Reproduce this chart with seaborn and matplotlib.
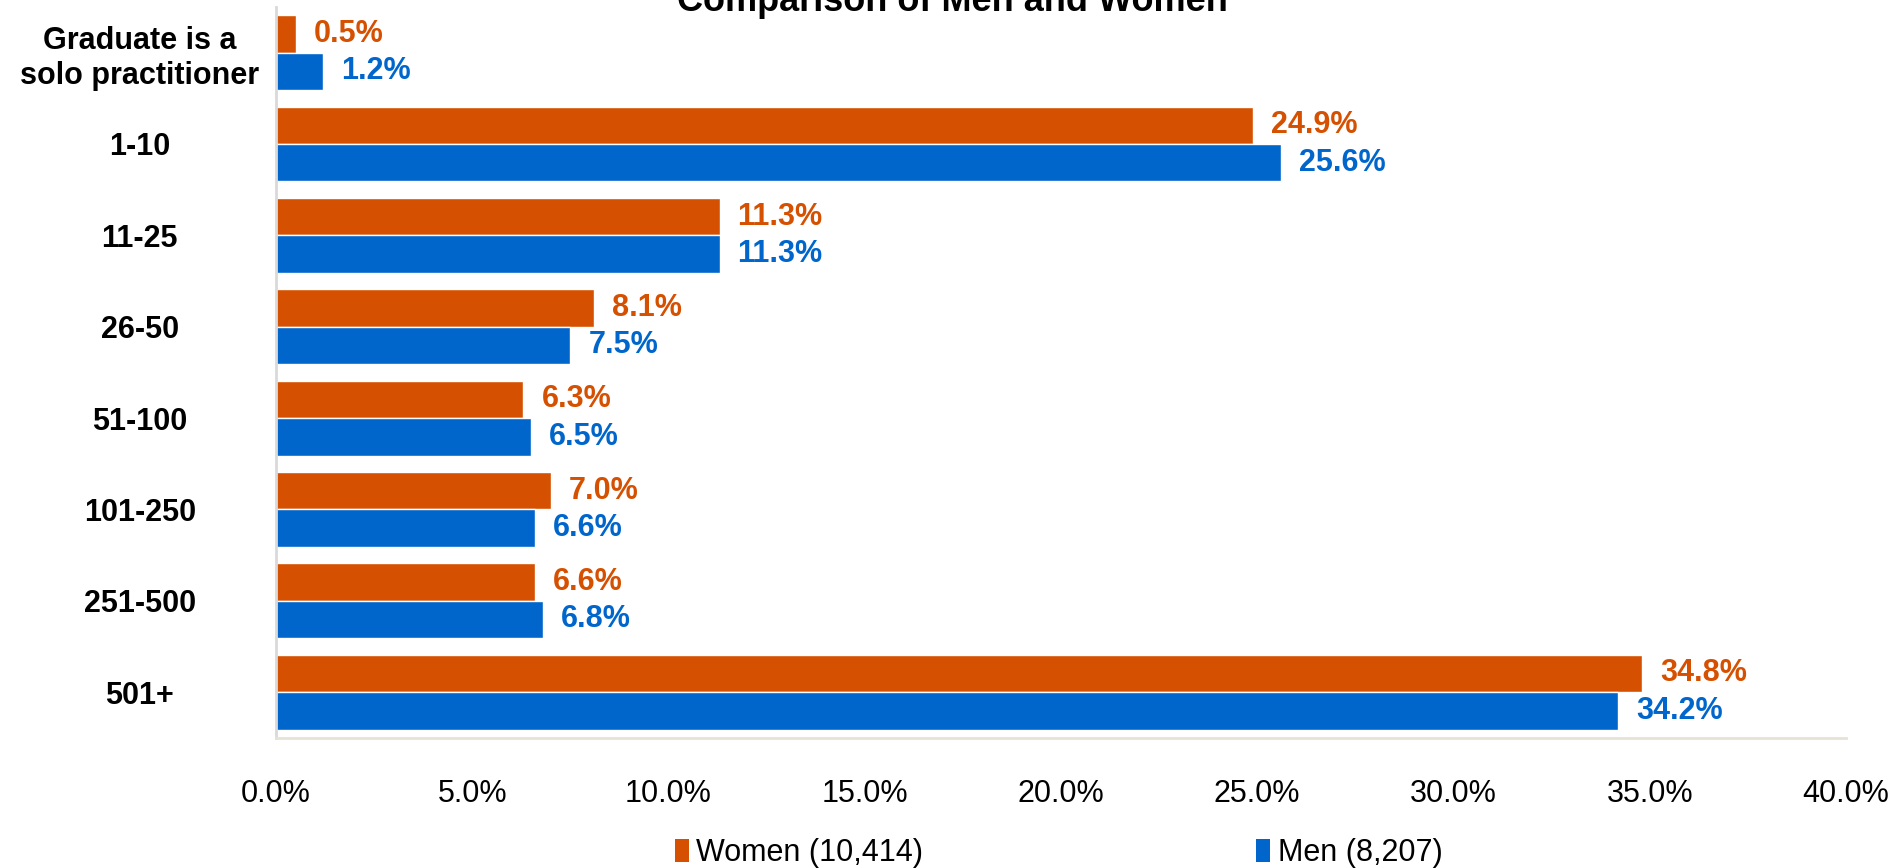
import matplotlib
matplotlib.use("Agg")
import matplotlib.pyplot as plt
import seaborn as sns
import pandas as pd
from matplotlib.patches import Patch

categories = ["Graduate is a\nsolo practitioner", "1-10", "11-25", "26-50",
              "51-100", "101-250", "251-500", "501+"]
women = [0.5, 24.9, 11.3, 8.1, 6.3, 7.0, 6.6, 34.8]
men = [1.2, 25.6, 11.3, 7.5, 6.5, 6.6, 6.8, 34.2]
series = ["Women (10,414)", "Men (8,207)"]
colors = ["#D55000", "#0066CC"]
xticks = [0, 5, 10, 15, 20, 25, 30, 35, 40]

sns.set_theme(style="white")
plt.rcParams["font.family"] = ["Liberation Sans Narrow", "Liberation Sans", "DejaVu Sans"]
plt.rcParams["text.color"] = "black"
plt.rcParams["xtick.labelcolor"] = "black"
plt.rcParams["ytick.labelcolor"] = "black"

df = pd.DataFrame({
    "category": categories * 2,
    "value": women + men,
    "series": [series[0]] * len(categories) + [series[1]] * len(categories),
})

fig = plt.figure(figsize=(19.04, 8.68), dpi=100)
ax = fig.add_axes([0.145, 0.15, 0.8245, 0.842])

sns.barplot(data=df, y="category", x="value", hue="series", order=categories,
            hue_order=series, palette=colors, orient="h", width=0.82,
            saturation=1, legend=False, ax=ax)

for container, col in zip(ax.containers, colors):
    labels = [f"{v:.1f}%" for v in container.datavalues]
    ax.bar_label(container, labels=labels, padding=13, color=col,
                 fontsize=22, fontweight="bold")

ax.set_xlim(0, 40)
ax.set_ylim(len(categories) - 0.5, -0.5)
ax.set_xticks(xticks)
ax.set_xticklabels([f"{t:.1f}%" for t in xticks], fontsize=22)
ax.set_xlabel("")
ax.set_ylabel("")
ax.tick_params(axis="x", direction="in", length=8, width=1.5, color="#E6E2D6", pad=30)
ax.tick_params(axis="y", length=0, pad=28)
for lbl in ax.get_yticklabels():
    lbl.set_fontsize(22)
    lbl.set_fontweight("bold")
    lbl.set_horizontalalignment("center")
    lbl.set_x(-0.062)
for s in ["top", "right"]:
    ax.spines[s].set_visible(False)
ax.spines["bottom"].set_color("#E6E2D6")
ax.spines["bottom"].set_linewidth(2)
ax.spines["left"].set_color("#D9D9D9")
ax.spines["left"].set_linewidth(2)

fig.text(0.5, 0.987, "Comparison of Men and Women", ha="center", va="baseline",
         fontsize=26, fontweight="bold")

handles = [Patch(facecolor=c, edgecolor="none") for c in colors]
fig.legend(handles, series, loc="center", bbox_to_anchor=(0.556, 0.017), ncol=2,
           frameon=False, fontsize=22, handlelength=0.45, handleheight=0.8,
           handletextpad=0.25, columnspacing=10.9)

fig.savefig("out.png", dpi=100)
